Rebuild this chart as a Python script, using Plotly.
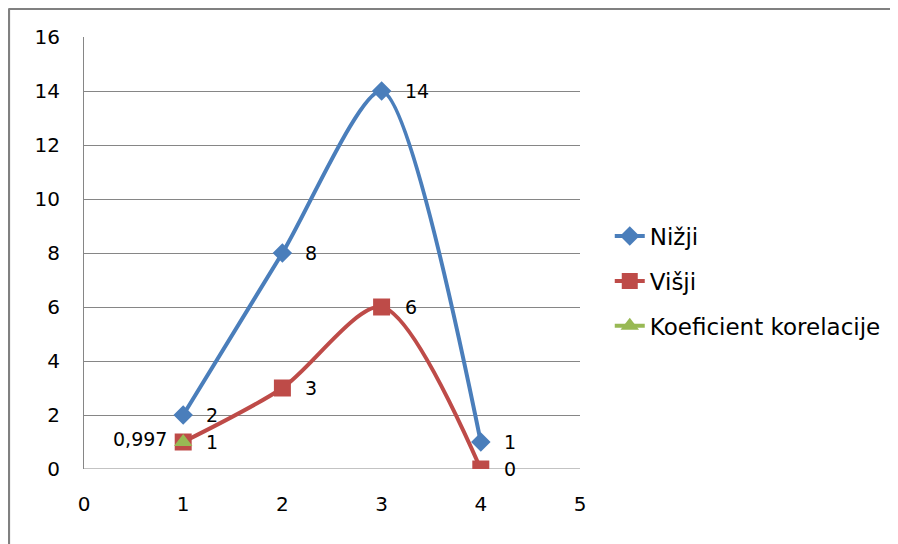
import plotly.graph_objects as go

x_vals = [1, 2, 3, 4]
nizji = [2, 8, 14, 1]
visji = [1, 3, 6, 0]
koef_x = [1]
koef_y = [0.997]
koef_labels = ["0,997"]
x_ticks = [0, 1, 2, 3, 4, 5]
y_ticks = [0, 2, 4, 6, 8, 10, 12, 14, 16]

FONT = "DejaVu Sans"
lab_font = dict(family=FONT, size=19, color="black")

fig = go.Figure()
fig.add_trace(go.Scatter(
    x=x_vals, y=nizji, name="Nižji", mode="lines+markers",
    line=dict(color="#4A7EBB", width=4, shape="spline", smoothing=0.7),
    marker=dict(symbol="diamond", size=15, color="#4A7EBB"),
    legendgroup="a"))
fig.add_trace(go.Scatter(
    x=x_vals, y=visji, name="Višji", mode="lines+markers",
    line=dict(color="#BE4B48", width=4, shape="spline", smoothing=0.8),
    marker=dict(symbol="square", size=17, color="#BE4B48"),
    legendgroup="b"))
fig.add_trace(go.Scatter(
    x=koef_x, y=koef_y, name="Koeficient korelacije", mode="lines+markers",
    line=dict(color="#98B954", width=4),
    marker=dict(symbol="triangle-up", size=16, color="#98B954"),
    legendgroup="c"))

# data labels
for xs, ys in ((x_vals, nizji), (x_vals, visji)):
    for xv, yv in zip(xs, ys):
        fig.add_annotation(x=xv, y=yv, text=str(yv), showarrow=False,
                           xanchor="left", yanchor="middle", xshift=21,
                           font=lab_font)
for xv, yv, t in zip(koef_x, koef_y, koef_labels):
    fig.add_annotation(x=xv, y=yv, text=t, showarrow=False,
                       xanchor="right", yanchor="middle", xshift=-14, yshift=3,
                       font=lab_font)

# outer chart border (only top and left visible in the crop)
fig.add_shape(type="line", xref="paper", yref="paper",
              x0=-0.152, y0=-0.3, x1=-0.152, y1=1.066,
              line=dict(color="#808080", width=3))
fig.add_shape(type="line", xref="paper", yref="paper",
              x0=-0.152, y0=1.066, x1=1.7, y1=1.066,
              line=dict(color="#808080", width=3))
# horizontal axis line at y = 0
fig.add_shape(type="line", xref="paper", yref="y", x0=0, x1=1, y0=0, y1=0,
              line=dict(color="#868686", width=1), layer="below")

fig.update_layout(
    width=890, height=536,
    margin=dict(l=76, r=318, t=29, b=75),
    paper_bgcolor="white", plot_bgcolor="white",
    font=dict(family=FONT, size=19, color="black"),
    showlegend=True,
    legend=dict(x=1.06, y=0.435, xanchor="left", yanchor="middle",
                font=dict(family=FONT, size=23, color="black"),
                tracegroupgap=12, bgcolor="rgba(0,0,0,0)"),
    hovermode=False,
)
fig.update_xaxes(range=[0, 5], tickvals=x_ticks, showgrid=False,
                 zeroline=False, showline=False, ticks="", automargin=False,
                 ticklabelstandoff=21, tickfont=dict(family=FONT, size=20))
fig.update_yaxes(range=[0, 16], tickvals=y_ticks, showgrid=True,
                 gridcolor="#868686", gridwidth=1, zeroline=False,
                 showline=True, linecolor="#868686", linewidth=1,
                 mirror=False, ticks="", ticklabelstandoff=19, automargin=False,
                 tickfont=dict(family=FONT, size=20))

fig.write_html("out.html")
